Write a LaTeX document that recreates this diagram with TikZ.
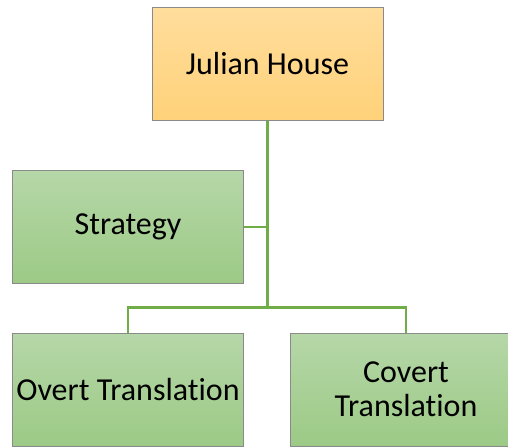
\documentclass[tikz,border=0pt]{standalone}
\usepackage{fontspec}
\setmainfont{Carlito}[Ligatures={NoCommon}]
\definecolor{goldtop}{HTML}{FFDD9C}
\definecolor{goldbot}{HTML}{FFD27A}
\definecolor{greentop}{HTML}{B6D7A8}
\definecolor{greenbot}{HTML}{9CCA86}
\definecolor{edgegray}{HTML}{8A8A8A}
\definecolor{linkgreen}{HTML}{70AD47}
\begin{document}
\begin{tikzpicture}[x=1pt,y=-1pt,
  orgbox/.style={rectangle, draw=edgegray, line width=1pt, inner sep=0pt,
    minimum width=231pt, minimum height=113pt, align=center,
    font=\fontsize{32}{34}\selectfont},
  headbox/.style={orgbox, top color=goldtop, bottom color=goldbot},
  subbox/.style={orgbox, top color=greentop, bottom color=greenbot},
  link/.style={draw=linkgreen, line width=2.6pt}]
\useasboundingbox (0,0) rectangle (508,447);
\clip (0,0) rectangle (508,447);
\fill[white] (0,0) rectangle (508,447);

\node[headbox] (jh) at (267.5,63.5) {Julian House};
\node[subbox] (st) at (128,227) {Strategy};
\node[subbox] (ov) at (128,389.5) {Overt Translation};
\node[subbox] (cv) at (406,389.5) {Covert\\Translation};

\coordinate (bus) at (267.5,307.5);

\draw[link] (jh.south) -- (bus);
\draw[link] (st.east) -- (st.east -| bus);
\draw[link] (ov.north) |- (bus) -| (cv.north);
\end{tikzpicture}
\end{document}
